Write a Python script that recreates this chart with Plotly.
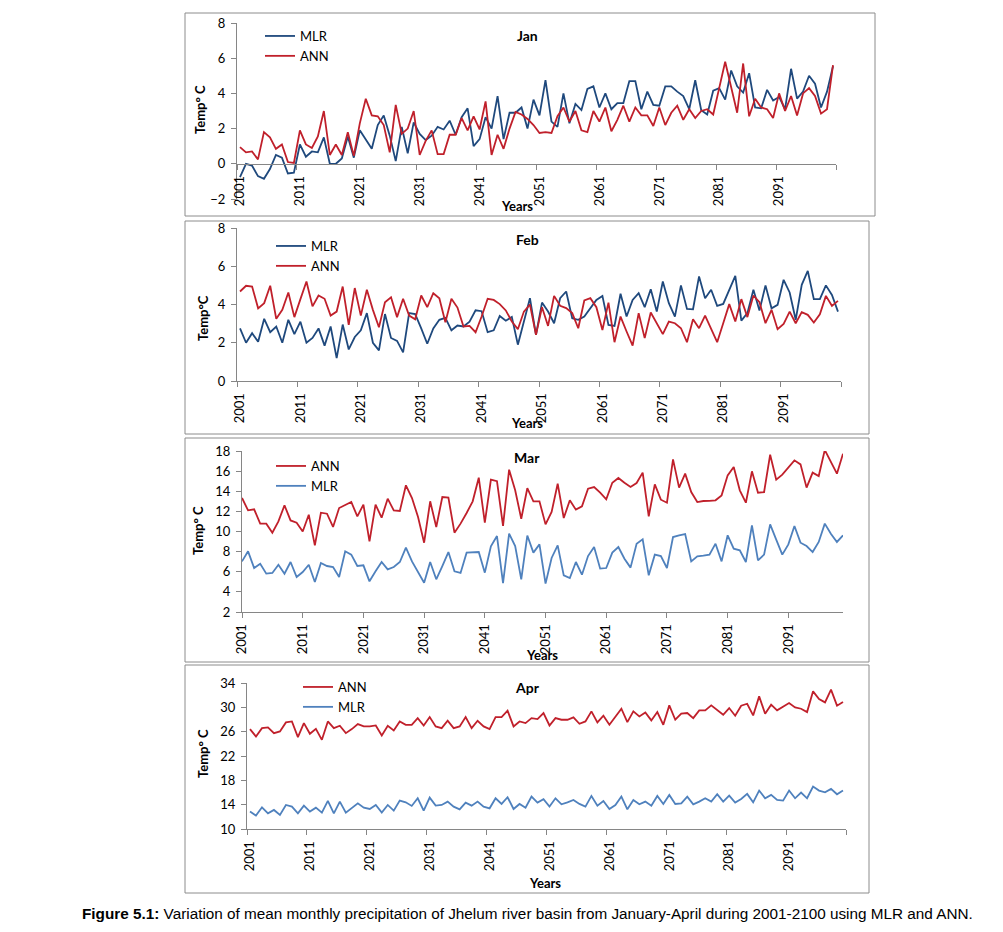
import plotly.graph_objects as go

years = list(range(2001, 2101))
tick_years = list(range(2001, 2101, 10))

jan_mlr = [-0.76, 0.0, -0.1, -0.7, -0.85, -0.3, 0.5, 0.35, -0.55, -0.5,
           1.1, 0.4, 0.7, 0.65, 1.5, 0.0, 0.0, 0.3, 1.55, 0.35,
           1.9, 1.4, 0.85, 2.2, 2.75, 1.6, 0.15, 2.1, 0.6, 2.35,
           1.7, 1.35, 1.6, 2.1, 1.95, 2.45, 1.65, 2.65, 3.15, 1.0,
           1.4, 2.65, 2.0, 3.85, 1.4, 2.9, 2.9, 3.2, 2.0, 3.65,
           2.75, 4.75, 2.4, 2.1, 4.0, 2.3, 3.4, 3.05, 4.25, 4.4,
           3.2, 4.0, 3.1, 3.45, 3.45, 4.7, 4.7, 3.1, 4.1, 3.35,
           3.3, 4.4, 4.4, 4.1, 3.85, 3.1, 4.75, 3.05, 2.8, 4.15,
           4.3, 3.65, 5.3, 4.4, 4.05, 5.15, 3.2, 3.15, 4.2, 3.6,
           3.8, 3.1, 5.4, 3.7, 4.1, 5.0, 4.55, 3.2, 4.1, 5.55]
jan_ann = [0.95, 0.65, 0.7, 0.25, 1.8, 1.5, 0.85, 1.1, 0.1, 0.05,
           1.9, 1.1, 0.9, 1.55, 3.0, 0.5, 1.1, 0.5, 1.8, 0.45,
           2.3, 3.7, 2.75, 2.7, 2.2, 0.65, 3.35, 1.7, 2.0, 3.0,
           0.5, 1.3, 1.9, 0.55, 0.55, 1.65, 1.65, 2.6, 1.9, 2.7,
           1.95, 3.55, 0.5, 1.65, 0.85, 2.0, 2.95, 2.8, 2.55, 2.2,
           1.75, 1.8, 1.75, 2.7, 3.2, 2.4, 3.0, 1.9, 1.8, 3.0,
           2.4, 3.2, 1.85, 2.5, 3.3, 2.4, 3.2, 2.75, 2.75, 2.15,
           3.2, 2.2, 2.9, 3.3, 2.5, 3.1, 2.6, 3.0, 3.1, 2.8,
           4.3, 5.8, 4.35, 2.9, 5.7, 2.7, 3.7, 3.2, 3.1, 2.6,
           4.0, 3.0, 3.85, 2.75, 4.0, 4.3, 3.85, 2.85, 3.1, 5.6]

feb_mlr = [2.75, 2.0, 2.5, 2.05, 3.25, 2.55, 2.85, 2.0, 3.2, 2.45,
           3.1, 2.0, 2.25, 2.75, 1.85, 2.85, 1.2, 2.95, 1.65, 2.3,
           2.65, 3.55, 2.0, 1.6, 3.5, 2.25, 2.1, 1.5, 3.55, 3.5,
           2.75, 1.95, 2.75, 3.2, 3.3, 2.65, 2.9, 2.85, 3.1, 3.7,
           3.65, 2.55, 2.65, 3.4, 3.15, 3.35, 1.9, 3.1, 4.33, 2.41,
           4.1, 3.63, 3.02, 4.33, 4.68, 3.28, 3.2, 3.37, 3.8, 4.24,
           4.45, 2.93, 2.88, 4.56, 3.37, 4.24, 4.59, 3.86, 4.8, 3.63,
           5.2, 4.07, 3.37, 5.0, 3.77, 3.75, 5.47, 4.33, 4.77, 3.93,
           4.03, 4.77, 5.5, 3.16, 3.55, 4.77, 3.69, 5.0, 3.8, 3.98,
           5.29, 4.63, 3.2, 5.03, 5.76, 4.28, 4.28, 5.0, 4.5, 3.63]
feb_ann = [4.68, 4.98, 4.94, 3.8, 4.07, 4.98, 3.25, 3.72, 4.63, 3.34,
           4.28, 5.2, 3.9, 4.47, 4.3, 3.42, 3.63, 4.94, 2.93, 4.86,
           3.42, 4.77, 3.72, 2.81, 4.12, 4.38, 3.34, 4.3, 3.42, 3.23,
           4.47, 3.86, 4.59, 4.33, 3.07, 4.3, 3.84, 2.85, 2.88, 2.55,
           3.37, 4.3, 4.24, 4.02, 3.69, 3.11, 2.71, 3.63, 4.0, 2.41,
           3.86, 2.88, 4.45, 3.93, 3.81, 3.55, 2.76, 4.21, 4.33, 3.86,
           2.67, 4.1, 2.03, 3.37, 2.59, 1.85, 3.55, 2.24, 3.58, 3.02,
           2.45, 3.11, 3.02, 2.76, 2.03, 3.23, 2.76, 3.42, 2.76, 2.03,
           3.02, 4.02, 3.11, 4.28, 3.34, 4.47, 4.12, 3.02, 3.72, 2.71,
           2.99, 3.63, 3.02, 3.6, 3.46, 3.06, 3.49, 4.45, 3.93, 4.19]

mar_ann = [13.33, 12.1, 12.2, 10.78, 10.78, 9.88, 11.0, 12.6, 11.1, 10.88,
           10.0, 11.67, 8.62, 11.87, 11.77, 10.45, 12.33, 12.67, 12.93, 11.5,
           12.67, 9.02, 12.67, 11.37, 13.26, 12.1, 12.04, 14.59, 13.33, 11.44,
           8.89, 13.0, 10.45, 13.43, 13.36, 9.88, 10.78, 11.84, 13.0, 15.35,
           10.88, 15.15, 15.0, 10.55, 16.14, 14.09, 11.27, 14.3, 13.0, 13.0,
           10.71, 11.94, 14.75, 11.34, 13.1, 12.17, 12.5, 14.26, 14.42, 13.86,
           13.2, 14.85, 15.32, 14.85, 14.42, 14.82, 15.85, 11.51, 14.69, 13.16,
           12.86, 17.17, 14.36, 15.75, 13.92, 12.93, 13.03, 13.05, 13.1, 13.59,
           15.58, 16.41, 14.09, 12.86, 15.98, 13.86, 13.92, 17.63, 15.15, 15.65,
           16.34, 17.07, 16.67, 14.36, 15.85, 15.51, 18.1, 16.9, 15.75, 17.73]
mar_mlr = [7.03, 8.03, 6.37, 6.8, 5.81, 5.88, 6.7, 5.81, 6.97, 5.48,
           5.97, 6.7, 4.98, 6.87, 6.57, 6.47, 5.48, 8.03, 7.7, 6.57,
           6.64, 5.05, 6.04, 6.97, 6.24, 6.47, 6.97, 8.39, 7.03, 5.91,
           4.91, 6.97, 5.25, 6.57, 7.96, 6.04, 5.88, 7.9, 7.96, 7.96,
           5.91, 8.53, 9.55, 4.88, 9.78, 8.56, 5.25, 9.6, 7.9, 8.72,
           4.82, 7.37, 8.62, 5.64, 5.38, 6.97, 5.71, 7.56, 8.46, 6.31,
           6.37, 7.9, 8.46, 7.3, 6.41, 8.79, 9.22, 5.64, 7.7, 7.56,
           6.37, 9.45, 9.62, 9.75, 7.03, 7.53, 7.6, 7.7, 8.79, 7.03,
           9.62, 8.29, 8.13, 6.97, 10.61, 7.13, 7.7, 10.71, 9.19, 7.7,
           8.72, 10.55, 8.89, 8.56, 7.96, 8.96, 10.78, 9.78, 8.96, 9.62]

apr_ann = [26.42, 25.21, 26.58, 26.69, 25.76, 26.04, 27.52, 27.68, 25.1, 27.41,
           25.65, 26.47, 24.66, 27.68, 26.58, 26.97, 25.76, 26.42, 27.24, 26.86,
           26.86, 27.02, 25.38, 26.97, 26.2, 27.68, 27.13, 27.13, 28.23, 27.02,
           28.4, 26.86, 26.58, 27.79, 26.58, 26.86, 28.4, 26.58, 27.79, 26.86,
           26.42, 28.4, 28.4, 29.44, 26.86, 27.68, 27.41, 28.23, 28.07, 29.06,
           27.02, 28.23, 27.96, 27.96, 28.34, 27.3, 27.68, 29.33, 27.52, 28.62,
           27.13, 28.4, 29.77, 27.57, 29.33, 28.51, 29.17, 27.85, 29.22, 27.13,
           30.32, 27.96, 28.95, 29.06, 28.23, 29.5, 29.5, 30.32, 29.6, 28.78,
           29.88, 28.62, 30.27, 30.59, 28.67, 31.8, 28.95, 30.43, 29.5, 30.15,
           30.7, 29.99, 29.77, 29.22, 32.63, 31.36, 30.81, 32.9, 30.27, 30.87]
apr_mlr = [12.86, 12.2, 13.57, 12.58, 13.13, 12.31, 13.95, 13.68, 12.58, 13.84,
           12.86, 13.51, 12.69, 14.61, 12.58, 14.5, 12.69, 13.4, 14.23, 13.51,
           13.29, 13.95, 12.69, 13.95, 13.02, 14.67, 14.39, 13.79, 15.05, 13.02,
           15.16, 13.84, 13.95, 14.5, 13.68, 13.24, 14.34, 13.84, 14.5, 13.68,
           13.4, 15.05, 14.12, 15.22, 13.29, 14.12, 13.51, 15.33, 14.34, 14.89,
           13.68, 15.05, 14.06, 14.39, 14.78, 14.12, 13.68, 15.44, 13.84, 14.61,
           13.29, 13.95, 15.33, 13.24, 14.78, 14.06, 14.5, 13.84, 15.44, 14.12,
           15.6, 14.12, 14.23, 15.33, 14.06, 14.5, 15.05, 14.5, 15.71, 14.5,
           15.49, 14.34, 14.94, 15.77, 14.39, 16.32, 15.05, 15.6, 14.78, 14.67,
           16.32, 15.05, 15.99, 15.05, 16.97, 16.32, 16.04, 16.59, 15.71, 16.32]

# page is 1003x932; the plot div sits inside an 8px body margin
OFF = 8
W, H = 1003 - 2 * OFF, 932 - 2 * OFF
FONT = "Lato"
AX = "#868686"
RED = "#C0202B"
DBLUE = "#1F497D"
LBLUE = "#4F81BD"


def px(x):
    return (x - OFF) / W


def py(y):
    return 1 - (y - OFF) / H


fig = go.Figure()

panels = [
    dict(name="Jan", series=[("MLR", jan_mlr, DBLUE), ("ANN", jan_ann, RED)],
         xd=(237, 836), yd=(23, 199), yr=(-2, 8), dt=2, mode="between",
         ytitle="Temp° C", yt=(200, 110), xt=(517, 206), tt=(527, 36), lg=(260, 27), xpos=163.8),
    dict(name="Feb", series=[("MLR", feb_mlr, DBLUE), ("ANN", feb_ann, RED)],
         xd=(237, 841), yd=(228, 381), yr=(0, 8), dt=2, mode="between",
         ytitle="Temp°C", yt=(203, 318), xt=(527, 423), tt=(527, 240), lg=(271, 237), xpos=None),
    dict(name="Mar", series=[("ANN", mar_ann, RED), ("MLR", mar_mlr, LBLUE)],
         xd=(242, 843), yd=(451, 612), yr=(2, 18), dt=2, mode="on",
         ytitle="Temp° C", yt=(198, 531), xt=(542, 655), tt=(527, 457), lg=(271, 457), xpos=None),
    dict(name="Apr", series=[("ANN", apr_ann, RED), ("MLR", apr_mlr, LBLUE)],
         xd=(247, 846), yd=(683, 829), yr=(10, 34), dt=4, mode="between",
         ytitle="Temp° C", yt=(203, 754), xt=(545, 883), tt=(527, 687), lg=(298, 678), xpos=None),
]

boxes = [(185, 13, 875, 216), (185, 221, 869, 434), (185, 438, 869, 662), (185, 665, 869, 893)]

annotations = []
shapes = []
layout = {}

for k, p in enumerate(panels):
    n = "" if k == 0 else str(k + 1)
    lname = "legend" + n
    for (lab, vals, col) in p["series"]:
        fig.add_trace(go.Scatter(
            x=years, y=vals, mode="lines", name=lab,
            line=dict(color=col, width=1.8),
            xaxis="x" + n, yaxis="y" + n, legend=lname,
        ))
    xa = dict(
        domain=[px(p["xd"][0]), px(p["xd"][1])],
        tickmode="array", tickvals=tick_years, ticktext=[str(t) for t in tick_years],
        tickangle=-90, showline=True, linecolor=AX, linewidth=1,
        showgrid=False, zeroline=False, automargin=False,
        tickfont=dict(family=FONT, size=13, color="#000"),
        fixedrange=True,
    )
    if p["mode"] == "between":
        xa.update(range=[2000.5, 2100.5], ticks="outside", ticklen=0, tickcolor="rgba(0,0,0,0)",
                  ticklabelstandoff=6,
                  minor=dict(tickmode="array", tickvals=[2000.5 + 10 * j for j in range(11)],
                             ticks="outside", ticklen=5, tickcolor=AX, showgrid=False))
    else:
        xa.update(range=[2001, 2100], ticks="outside", ticklen=5, tickcolor=AX, ticklabelstandoff=1)
    if p["xpos"] is not None:
        xa.update(anchor="free", position=py(p["xpos"]))
    else:
        xa.update(anchor="y" + n)
    ya = dict(
        domain=[py(p["yd"][1]), py(p["yd"][0])],
        range=list(p["yr"]), dtick=p["dt"], tick0=p["yr"][0],
        ticks="outside", ticklen=5, tickcolor=AX, ticklabelstandoff=3,
        showline=True, linecolor=AX, linewidth=1,
        showgrid=False, zeroline=False, automargin=False,
        tickfont=dict(family=FONT, size=13, color="#000"),
        anchor="x" + n, fixedrange=True,
    )
    layout["xaxis" + n] = xa
    layout["yaxis" + n] = ya
    layout[lname] = dict(
        x=px(p["lg"][0]), y=py(p["lg"][1] - 6), xanchor="left", yanchor="top",
        bgcolor="rgba(0,0,0,0)", font=dict(family=FONT, size=13, color="#000"),
        tracegroupgap=0, itemwidth=30,
    )
    annotations.append(dict(text="<b>%s</b>" % p["name"], x=px(p["tt"][0]), y=py(p["tt"][1]),
                            xref="paper", yref="paper", showarrow=False, yanchor="middle",
                            font=dict(family=FONT, size=14, color="#000")))
    annotations.append(dict(text="<b>Years</b>", x=px(p["xt"][0]), y=py(p["xt"][1]),
                            xref="paper", yref="paper", showarrow=False, yanchor="middle",
                            font=dict(family=FONT, size=13, color="#000")))
    annotations.append(dict(text="<b>%s</b>" % p["ytitle"], x=px(p["yt"][0]), y=py(p["yt"][1]),
                            xref="paper", yref="paper", showarrow=False, textangle=-90,
                            xanchor="center", yanchor="middle",
                            font=dict(family=FONT, size=13, color="#000")))

for (x0, y0, x1, y1) in boxes:
    shapes.append(dict(type="rect", xref="paper", yref="paper",
                       x0=px(x0), x1=px(x1), y0=py(y1), y1=py(y0),
                       line=dict(color="#8c8c8c", width=1), fillcolor="rgba(0,0,0,0)"))

annotations.append(dict(
    text="<b>Figure 5.1:</b> Variation of mean monthly precipitation of Jhelum river basin from January-April during 2001-2100 using MLR and ANN.",
    x=px(80), y=py(913), xref="paper", yref="paper", xanchor="left", yanchor="middle", showarrow=False,
    font=dict(family="Liberation Sans, Arial", size=15.3, color="#000")))

fig.update_layout(
    width=W, height=H, autosize=False,
    margin=dict(l=0, r=0, t=0, b=0, pad=0),
    paper_bgcolor="white", plot_bgcolor="white",
    showlegend=True,
    annotations=annotations, shapes=shapes,
    **layout,
)

fig.write_html("out.html")
